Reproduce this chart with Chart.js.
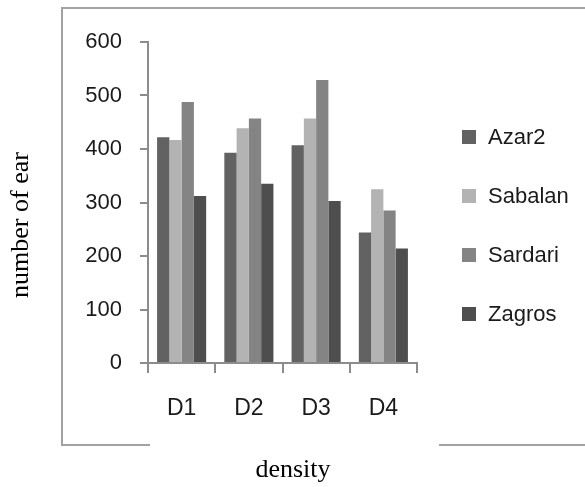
<!DOCTYPE html>
<html>
<head>
<meta charset="utf-8">
<script src="https://cdn.jsdelivr.net/npm/chart.js@4"></script>
<style>
html,body{margin:0;padding:0;background:#fff;}
#wrap{width:585px;height:487px;}
</style>
</head>
<body>
<div id="wrap"><canvas id="c" width="585" height="487"></canvas></div>
<script>
const categories = ['D1', 'D2', 'D3', 'D4'];
const seriesNames = ['Azar2', 'Sabalan', 'Sardari', 'Zagros'];
const azar2 = [422, 393, 407, 244];
const sabalan = [417, 439, 457, 325];
const sardari = [488, 457, 529, 285];
const zagros = [312, 335, 303, 214];
const yTicks = [0, 100, 200, 300, 400, 500, 600];
const xTitle = 'density';
const yTitle = 'number of ear';

const colors = ['#626262', '#b3b3b3', '#848484', '#4e4e4e'];
const values = [azar2, sabalan, sardari, zagros];

const framePlugin = {
  id: 'frame',
  beforeDraw(chart) {
    const ctx = chart.ctx;
    ctx.save();
    ctx.fillStyle = '#fff';
    ctx.fillRect(0, 0, chart.width, chart.height);
    ctx.strokeStyle = '#a2a2a2';
    ctx.lineWidth = 2;
    ctx.beginPath();
    ctx.moveTo(150, 445); ctx.lineTo(62, 445); ctx.lineTo(62, 8); ctx.lineTo(585, 8);
    ctx.moveTo(439, 445); ctx.lineTo(585, 445);
    ctx.stroke();
    ctx.restore();
  }
};

const legendTitlesPlugin = {
  id: 'legendTitles',
  afterDraw(chart) {
    const ctx = chart.ctx;
    ctx.save();
    ctx.font = '22px "Liberation Sans", Arial, sans-serif';
    ctx.textBaseline = 'middle';
    ctx.textAlign = 'left';
    chart.data.datasets.forEach((ds, i) => {
      const yc = 137 + i * 59;
      ctx.fillStyle = ds.backgroundColor;
      ctx.fillRect(462, yc - 7, 14, 14);
      ctx.fillStyle = '#1a1a1a';
      ctx.fillText(ds.label, 488, yc + 1);
    });
    ctx.fillStyle = '#000';
    ctx.font = '26px "Liberation Serif", "Times New Roman", serif';
    ctx.textAlign = 'center';
    ctx.textBaseline = 'alphabetic';
    ctx.fillText(xTitle, 293, 477);
    ctx.translate(28, 225);
    ctx.rotate(-Math.PI / 2);
    ctx.fillText(yTitle, 0, 0);
    ctx.restore();
  }
};

new Chart(document.getElementById('c'), {
  type: 'bar',
  data: {
    labels: categories,
    datasets: seriesNames.map((name, i) => ({
      label: name,
      data: values[i],
      backgroundColor: colors[i],
      borderWidth: 0,
      categoryPercentage: 0.73,
      barPercentage: 1.0
    }))
  },
  options: {
    responsive: false,
    animation: false,
    devicePixelRatio: 1,
    layout: { padding: { left: 7, right: 168, top: 42, bottom: 0 } },
    plugins: { legend: { display: false }, tooltip: { enabled: false } },
    scales: {
      x: {
        grid: { drawOnChartArea: false, drawTicks: true, tickLength: 10, color: '#8c8c8c', lineWidth: 2, offset: true },
        border: { display: true, color: '#8c8c8c', width: 2 },
        ticks: { color: '#1a1a1a', font: { family: '"Liberation Sans", Arial, sans-serif', size: 23 }, padding: 22 },
        afterFit(scale) { scale.height = 124; }
      },
      y: {
        min: 0, max: 600,
        afterBuildTicks(scale) { scale.ticks = yTicks.map(v => ({ value: v })); },
        grid: { drawOnChartArea: false, drawTicks: true, tickLength: 8, color: '#8c8c8c', lineWidth: 2 },
        border: { display: true, color: '#8c8c8c', width: 2 },
        ticks: { color: '#1a1a1a', font: { family: '"Liberation Sans", Arial, sans-serif', size: 22 }, padding: 18 },
        afterFit(scale) { scale.width = 141; }
      }
    }
  },
  plugins: [framePlugin, legendTitlesPlugin]
});
</script>
</body>
</html>
